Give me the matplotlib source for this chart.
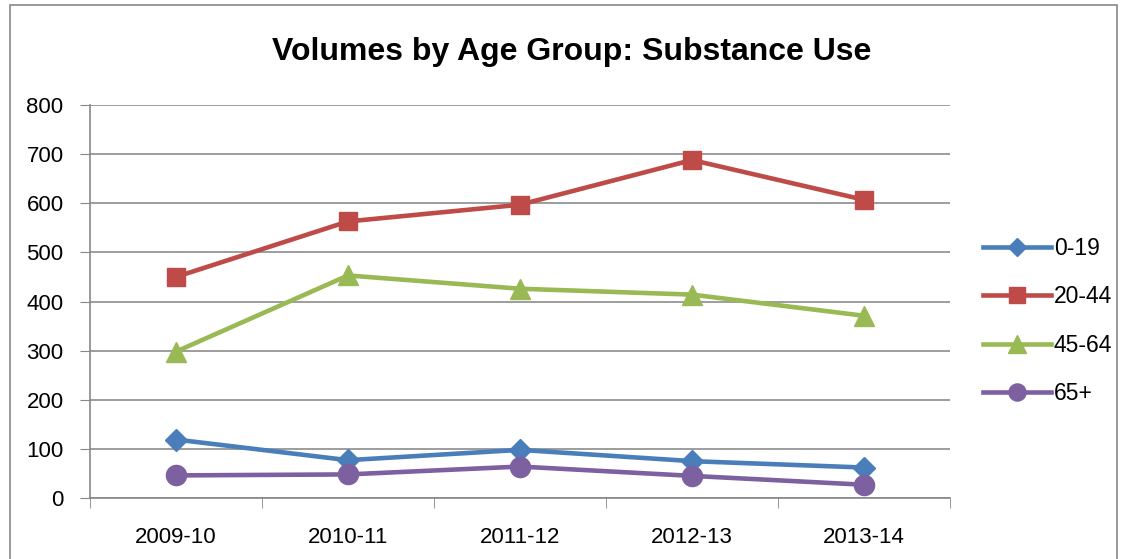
import matplotlib.pyplot as plt
from matplotlib.patches import Rectangle

years = ["2009-10", "2010-11", "2011-12", "2012-13", "2013-14"]
age_0_19 = [119, 77, 98, 75, 62]
age_20_44 = [450, 563, 597, 688, 607]
age_45_64 = [298, 453, 426, 414, 371]
age_65_plus = [46, 48, 64, 45, 27]

plt.rcParams["font.family"] = ["Liberation Sans", "DejaVu Sans"]


def main():
    fig = plt.figure(figsize=(11.29, 5.59), dpi=100)
    ax = fig.add_axes([90 / 1129, 1 - 498 / 559, 860 / 1129, 393 / 559])

    # chart border (Excel style)
    fig.patches.append(Rectangle((10 / 1129, -0.05), 1107 / 1129, 1.05 - 5 / 559,
                                 transform=fig.transFigure, fill=False,
                                 edgecolor="#878787", linewidth=1.2))

    x = range(len(years))
    series = [
        ("0-19", age_0_19, "#4A7EBB", "D", 11),
        ("20-44", age_20_44, "#BE4B48", "s", 13.5),
        ("45-64", age_45_64, "#98B954", "^", 14.5),
        ("65+", age_65_plus, "#7D60A0", "o", 14.5),
    ]
    for label, vals, color, marker, ms in series:
        ax.plot(x, vals, color=color, linewidth=3.3, marker=marker,
                markersize=ms, label=label)

    ax.set_xlim(-0.5, len(years) - 0.5)
    ax.set_ylim(0, 800)
    ax.set_yticks(range(0, 801, 100))
    ax.set_xticks(list(x))
    ax.set_xticklabels(years)
    ax.set_xticks([i - 0.5 for i in range(len(years) + 1)], minor=True)
    ax.tick_params(axis="x", which="major", length=0, labelsize=16, pad=21)
    ax.tick_params(axis="x", which="minor", length=7, color="#878787")
    ax.tick_params(axis="y", length=7, color="#878787", labelsize=16, pad=12)
    ax.yaxis.grid(True, color="#8C8C8C", linewidth=1.2)
    ax.set_axisbelow(True)
    for s in ["top", "right"]:
        ax.spines[s].set_visible(False)
    for s in ["left", "bottom"]:
        ax.spines[s].set_color("#878787")
        ax.spines[s].set_linewidth(1.2)

    fig.text(572 / 1129, 1 - 52 / 559, "Volumes by Age Group: Substance Use",
             ha="center", va="center", fontsize=23, fontweight="bold")

    ax.legend(loc="center left", bbox_to_anchor=(962 / 1129, 1 - 321 / 559),
              bbox_transform=fig.transFigure, frameon=False, fontsize=16.5,
              handlelength=3.0, handletextpad=0.1, labelspacing=1.1,
              markerscale=0.85)

    fig.savefig("out.png", dpi=100)


if __name__ == "__main__":
    main()
